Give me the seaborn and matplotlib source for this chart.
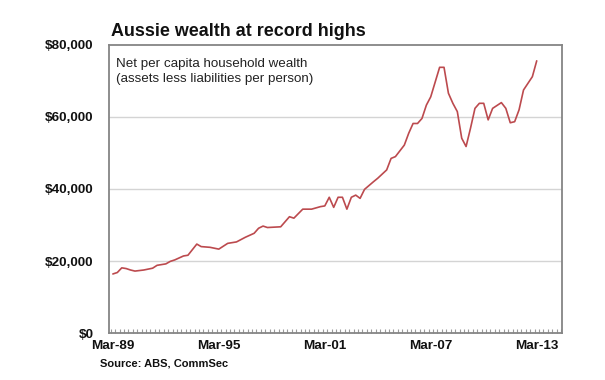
import matplotlib
matplotlib.use("Agg")
import matplotlib.pyplot as plt
import matplotlib.dates as mdates
import matplotlib.ticker as mticker
import seaborn as sns
import pandas as pd

# quarter index from Mar-89 (0 = Mar-89, 1 = Jun-89, ...)
quarter_idx = [0, 1, 2, 3, 4, 5, 7, 9, 10, 12, 13, 14, 16, 17, 19, 20, 22, 24,
               26, 28, 30, 32, 33, 34, 35, 38, 40, 41, 43, 45, 47, 48, 49, 50,
               51, 52, 53, 54, 55, 56, 57, 59, 60, 62, 63, 64, 66, 67, 68, 69,
               70, 71, 72, 74, 75, 76, 77, 78, 79, 80, 81, 82, 83, 84, 85, 86,
               88, 89, 90, 91, 92, 93, 95, 96]
wealth = [16400, 16800, 18100, 17900, 17500, 17200, 17500, 18000, 18800, 19200,
          19900, 20300, 21400, 21600, 24700, 24000, 23800, 23300, 24900, 25300,
          26600, 27700, 29100, 29700, 29300, 29500, 32300, 31900, 34400, 34400,
          35100, 35300, 37700, 34900, 37700, 37700, 34400, 37700, 38300, 37400,
          39900, 42000, 43000, 45300, 48500, 49000, 52200, 55500, 58200, 58200,
          59600, 63300, 65600, 73800, 73800, 66600, 63800, 61500, 54100, 51800,
          56900, 62400, 63800, 63800, 59200, 62400, 64000, 62400, 58400, 58700,
          62000, 67500, 71200, 75600]
y_ticks = [0, 20000, 40000, 60000, 80000]
x_tick_labels = ["Mar-89", "Mar-95", "Mar-01", "Mar-07", "Mar-13"]

title = "Aussie wealth at record highs"
note = "Net per capita household wealth\n(assets less liabilities per person)"
source = "Source: ABS, CommSec"

dates = [pd.Timestamp(year=1989 + q // 4, month=3 + 3 * (q % 4), day=15) for q in quarter_idx]
df = pd.DataFrame({"date": dates, "wealth": wealth})

sns.set_theme(style="white")
plt.rcParams["font.family"] = ["Liberation Sans", "DejaVu Sans"]

fig = plt.figure(figsize=(6.05, 3.8), dpi=100)
ax = fig.add_axes([109 / 605, 1 - 333 / 380, (562 - 109) / 605, (333 - 45) / 380])

sns.lineplot(data=df, x="date", y="wealth", ax=ax, color="#bc4a4e", linewidth=1.2)

ax.set_ylim(0, 80000)
ax.set_xlim(pd.Timestamp("1988-12-25"), pd.Timestamp("2014-08-20"))
ax.set_yticks(y_ticks)
ax.yaxis.set_major_formatter(mticker.FuncFormatter(lambda v, p: f"${int(v):,}"))

tick_dates = [pd.to_datetime(s, format="%b-%y") + pd.Timedelta(days=14) for s in x_tick_labels]
ax.set_xticks(tick_dates)
ax.set_xticklabels(x_tick_labels)
ax.xaxis.set_minor_locator(mdates.MonthLocator(bymonth=[2, 5, 8, 11], bymonthday=1))

for g in y_ticks[1:-1]:
    ax.axhline(g, color="#d4d4d4", linewidth=1.0, zorder=0)

for s in ax.spines.values():
    s.set_visible(True)
    s.set_color("#858585")
    s.set_linewidth(1.3)

ax.tick_params(axis="y", which="major", direction="out", length=3, width=1,
               color="#858585", pad=8, labelsize=9.7, labelcolor="#111111")
ax.tick_params(axis="x", which="major", direction="in", length=0, pad=5,
               labelsize=9.7, labelcolor="#111111")
ax.tick_params(axis="x", which="minor", direction="in", length=3, width=0.8,
               color="#9a9a9a", bottom=True)
for lab in ax.get_yticklabels() + ax.get_xticklabels():
    lab.set_fontweight("bold")

ax.set_xlabel("")
ax.set_ylabel("")

for i, line in enumerate(note.split("\n")):
    fig.text(116 / 605, 1 - (66.7 + 15 * i) / 380, line, fontsize=9.6,
             color="#222222", va="baseline", ha="left")
fig.text(111 / 605, 1 - 31 / 380, title, fontsize=12.9, fontweight="bold",
         color="#111111", va="center", ha="left")
fig.text(100 / 605, 1 - 364 / 380, source, fontsize=8, fontweight="bold",
         color="#111111", va="center", ha="left")

fig.savefig("out.png", dpi=100, facecolor="white")
